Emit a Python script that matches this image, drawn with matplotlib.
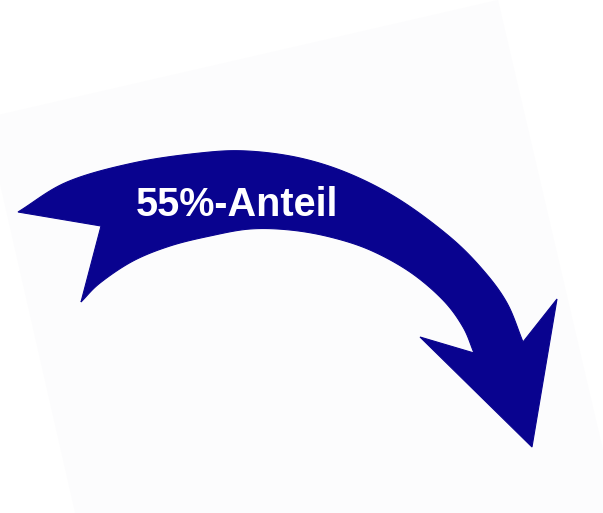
import numpy as np
import matplotlib
matplotlib.use("Agg")
import matplotlib.pyplot as plt
from matplotlib.patches import Polygon

# ---- content ----
label_text = "55%-Anteil"

# outline of the curved arrow (pixel coordinates of the picture)
outer_x = [18, 67, 133, 200, 247, 300, 350, 400, 450, 483, 507, 523]
outer_y = [212, 182, 163, 153, 151, 158, 174, 200, 237, 270, 303, 342]
inner_x = [81, 100, 133, 170, 210, 250, 290, 330, 370, 410, 443, 463, 474]
inner_y = [302, 283, 261, 246, 236, 229, 230, 237, 250, 272, 300, 327, 353]
head_x = [557, 532, 420]          # right barb, tip, left barb
head_y = [299, 447, 337]
tail_notch_x = [101]
tail_notch_y = [226]

# faint rotated backdrop sheet
sheet_x = [-15, 498, 638, 95]
sheet_y = [118, 0, 600, 600]

W, H = 603, 513


def smooth(xs, ys, n=14):
    """Catmull-Rom smoothing of an outline."""
    p = np.column_stack([xs, ys]).astype(float)
    p = np.vstack([2 * p[0] - p[1], p, 2 * p[-1] - p[-2]])
    out = []
    for i in range(1, len(p) - 2):
        p0, p1, p2, p3 = p[i - 1], p[i], p[i + 1], p[i + 2]
        for t in np.linspace(0, 1, n, endpoint=False):
            t2, t3 = t * t, t * t * t
            out.append(0.5 * ((2 * p1) + (-p0 + p2) * t +
                              (2 * p0 - 5 * p1 + 4 * p2 - p3) * t2 +
                              (-p0 + 3 * p1 - 3 * p2 + p3) * t3))
    out.append(p[-2])
    return np.array(out)


fig = plt.figure(figsize=(W / 100, H / 100), dpi=100)
fig.patch.set_facecolor("white")
ax = fig.add_axes([0, 0, 1, 1])
ax.set_xlim(0, W)
ax.set_ylim(H, 0)
ax.axis("off")

ax.add_patch(Polygon(np.column_stack([sheet_x, sheet_y]), closed=True,
                     facecolor="#fcfcfd", edgecolor="none", zorder=0))

outer = smooth(outer_x, outer_y)
inner = smooth(inner_x, inner_y)[::-1]
head = np.column_stack([head_x, head_y])
tail = np.column_stack([tail_notch_x, tail_notch_y])
outline = np.vstack([outer, head, inner, tail])

arrow_color = "#09038f"
ax.add_patch(Polygon(outline, closed=True, facecolor=arrow_color,
                     edgecolor=arrow_color, linewidth=0.8, joinstyle="miter",
                     zorder=2))

ax.text(237, 216, label_text, color="white", fontsize=28.5, fontweight="bold",
        family=["Liberation Sans", "DejaVu Sans"], ha="center",
        va="baseline", zorder=3)

fig.savefig("out.png", dpi=100, facecolor="white")
